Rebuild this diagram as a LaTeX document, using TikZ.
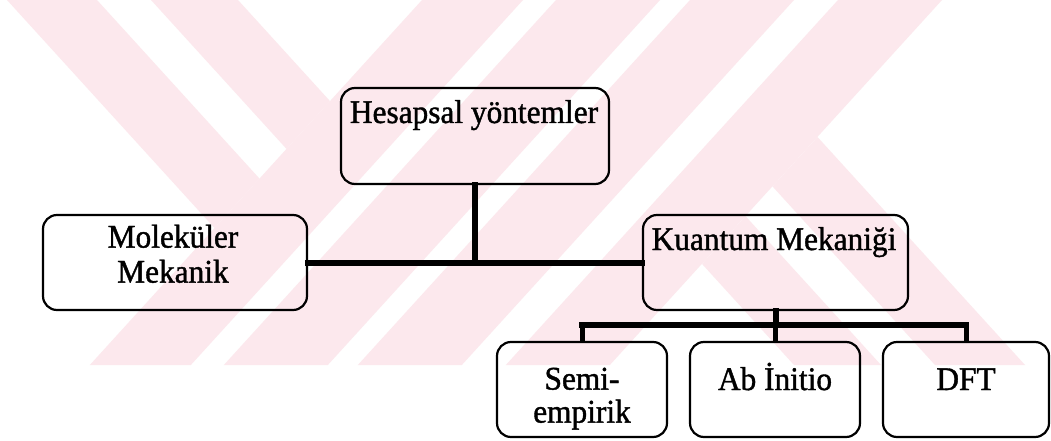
\documentclass[tikz,border=0pt]{standalone}
\usepackage{fontspec}
\setmainfont{Liberation Serif}[FakeStretch=0.95, FakeBold=1.2]
\definecolor{wm}{RGB}{252,232,237}
\begin{document}
\begin{tikzpicture}[x=1pt,y=-1pt,
  box/.style={draw=black, line width=2.2pt, rounded corners=14pt, inner sep=0pt, minimum height=95pt},
  lbl/.style={font=\fontsize{33}{35}\selectfont, inner sep=0pt, align=center},
  conn/.style={draw=black, line width=6pt, line cap=rect},
  dropline/.style={draw=black, line width=5pt, line cap=rect}]
\useasboundingbox (0,0) rectangle (1051,441);
\fill[white] (0,0) rectangle (1051,441);
% watermark
\fill[wm] (422,0) -- (523,0) -- (190.85,365) -- (89.85,365) -- cycle;
\fill[wm] (556,0) -- (660,0) -- (327.85,365) -- (223.85,365) -- cycle;
\fill[wm] (690,0) -- (794,0) -- (461.85,365) -- (357.85,365) -- cycle;
\fill[wm] (838,0) -- (942,0) -- (609.85,365) -- (505.85,365) -- cycle;
\fill[wm] (7,0) -- (97,0) -- (259.5,178.6) -- (214.5,228) -- cycle;
\fill[wm] (151,0) -- (238,0) -- (330,101.1) -- (286.5,148.9) -- cycle;
\fill[wm] (1025,365) -- (935,365) -- (772.5,186.4) -- (817.5,137) -- cycle;
\fill[wm] (881,365) -- (794,365) -- (702,263.9) -- (745.5,216.1) -- cycle;
% boxes
\node[box, minimum width=268pt, minimum height=96pt] (hes) at (475,136) {};
\node[box, minimum width=264pt] (mol) at (175,262.5) {};
\node[box, minimum width=265pt] (kua) at (775.5,262.5) {};
\node[box, minimum width=170pt] (semi) at (582,389.5) {};
\node[box, minimum width=170pt] (abin) at (775,389.5) {};
\node[box, minimum width=166pt] (dft) at (966,389.5) {};
% labels
\node[lbl, anchor=base] (hest) at (474,123) {Hesapsal yöntemler};
\node[lbl, anchor=north, font=\fontsize{33}{35}\selectfont] (molt) at (173,224.5) {Moleküler\\Mekanik};
\node[lbl, anchor=base] (kuat) at (774,250) {Kuantum Mekaniği};
\node[lbl, anchor=north, font=\fontsize{33}{33}\selectfont] (semit) at (582,367.5) {Semi-\\empirik};
\node[lbl, anchor=base] (abint) at (775,390) {Ab İnitio};
\node[lbl, anchor=base] (dftt) at (966,390) {DFT};
% connectors
\coordinate (bar) at (775,325);
\draw[conn] (hes.south) -- (hes.south |- mol.east);
\draw[conn] (mol.east) -- (kua.west);
\draw[conn] (kua.south) -- (kua.south |- bar);
\draw[conn] (semi.north |- bar) -- (dft.north |- bar);
\draw[dropline] (semi.north) -- (semi.north |- bar);
\draw[dropline] (abin.north) -- (abin.north |- bar);
\draw[dropline] (dft.north) -- (dft.north |- bar);
\end{tikzpicture}
\end{document}
